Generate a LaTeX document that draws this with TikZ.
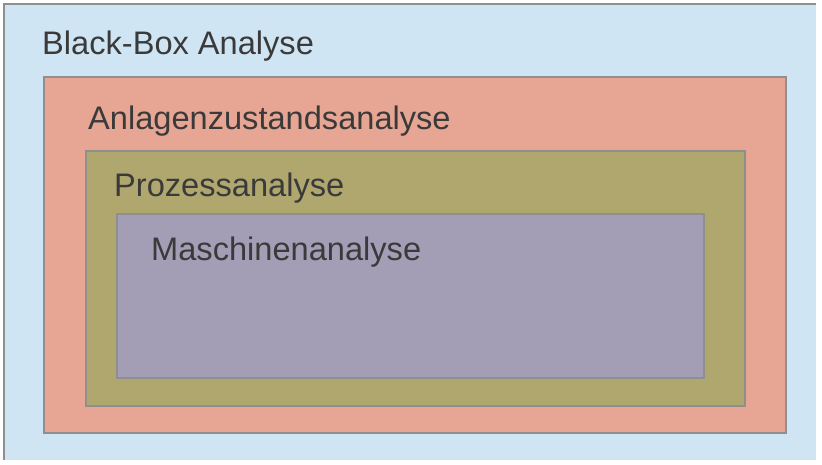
\documentclass[tikz,border=0pt]{standalone}
\usepackage{fontspec}
\setmainfont{Liberation Sans}
\definecolor{blackbox}{HTML}{CFE5F3}
\definecolor{anlage}{HTML}{E6A693}
\definecolor{prozess}{HTML}{B0A76E}
\definecolor{maschine}{HTML}{A39DB6}
\definecolor{rand}{HTML}{8F8F8F}
\definecolor{schrift}{HTML}{3A3A3A}
\tikzset{
  ebene/.style={draw=rand, line width=1.2},
  titel/.style={anchor=west, inner sep=0, text=schrift, font=\fontsize{32.6}{36}\selectfont}
}
\begin{document}
\begin{tikzpicture}[x=1pt, y=-1pt]
    \useasboundingbox (0,0) rectangle (822,464);
    \fill[blackbox] (4,4) rectangle (816,460);
    \draw[rand, line width=1.2] (4,460) -- (4,4) -- (816,4);
    \draw[ebene, fill=anlage] (44,77) rectangle (786,433);
    \draw[ebene, fill=prozess] (86,151) rectangle (745,406);
    \draw[ebene, fill=maschine] (117,214) rectangle (704,378);
    \node[titel] (blackbox) at (42,46) {Black-Box Analyse};
    \node[titel] (anlage) at (88,121) {Anlagenzustandsanalyse};
    \node[titel] (prozess) at (114,188) {Prozessanalyse};
    \node[titel] (maschine) at (151,252) {Maschinenanalyse};
\end{tikzpicture}
\end{document}
